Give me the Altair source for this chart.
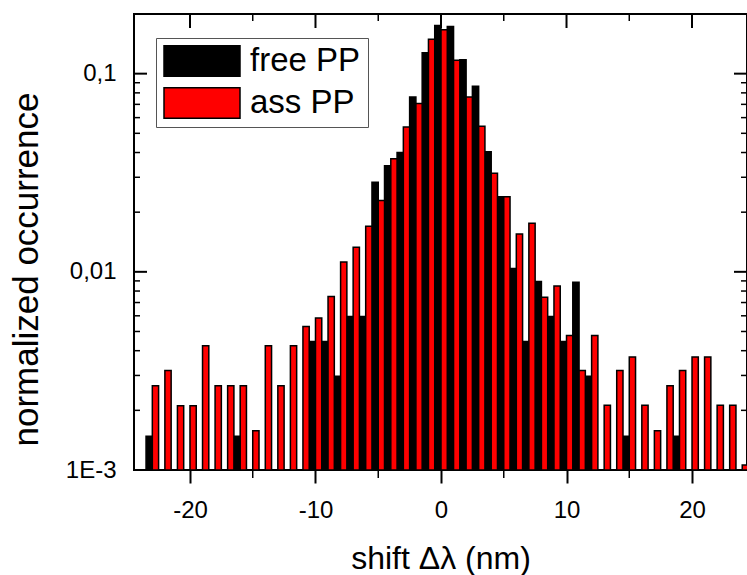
import altair as alt
import pandas as pd

# bin centres (nm)
bins = list(range(-23, 25))

free_pp = [0.00148, 0, 0, 0, 0, 0, 0, 0.00148, 0, 0,
           0, 0, 0, 0.00445, 0.00445, 0.00297, 0.00595, 0.00595, 0.0283, 0.0343,
           0.0400, 0.0762, 0.1276, 0.175, 0.173, 0.1175, 0.0863, 0.0403, 0.0239, 0.0104,
           0.00445, 0.00893, 0.00595, 0.00445, 0.00887, 0.00297, 0, 0, 0.00148, 0,
           0, 0, 0.00148, 0, 0, 0, 0, 0]

ass_pp = [0.00266, 0.00318, 0.00211, 0.00211, 0.00424, 0.00266, 0.00266, 0.00266, 0.00158, 0.00424,
          0.00266, 0.00424, 0.0053, 0.00584, 0.0075, 0.0112, 0.0133, 0.0170, 0.0229, 0.0372,
          0.0538, 0.0706, 0.149, 0.1666, 0.1167, 0.0762, 0.0543, 0.0314, 0.0239, 0.0155,
          0.0176, 0.00745, 0.00849, 0.00477, 0.00318, 0.00477, 0.00212, 0.00318, 0.00372, 0.00212,
          0.00158, 0.00266, 0.00318, 0.00372, 0.00372, 0.00212, 0.00212, 0.00106]

series_names = ["free PP", "ass PP"]
series_colors = ["#000000", "#ff0000"]

y_label_ticks = [0.001, 0.01, 0.1]
y_major_ticks = [0.01, 0.1]
y_minor_ticks = [0.002, 0.003, 0.004, 0.005, 0.006, 0.007, 0.008, 0.009,
                 0.02, 0.03, 0.04, 0.05, 0.06, 0.07, 0.08, 0.09]
x_major_ticks = [-20, -10, 0, 10, 20]
x_minor_ticks = [-15, -5, 5, 15]

W, H = 613, 456
FONT = "Liberation Sans"

rows = []
for b, v in zip(bins, free_pp):
    rows.append({"bin": b, "value": v, "series": "free PP"})
for b, v in zip(bins, ass_pp):
    rows.append({"bin": b, "value": v, "series": "ass PP"})
df = pd.DataFrame(rows)

xscale = alt.Scale(domain=[-24.46, 24.38], nice=False, zero=False)
yscale = alt.Scale(type="log", domain=[0.001, 0.2], nice=False)

x_axis = alt.Axis(
    values=x_major_ticks,
    labelExpr="'' + datum.value",
    title="shift Δλ (nm)",
    titleFontSize=32,
    titleFontWeight="normal",
    titleY=98,
    titleBaseline="alphabetic",
    titleColor="black",
    labelFontSize=24,
    labelColor="black",
    labelPadding=15,
    tickSize=13,
    tickWidth=2,
    tickColor="black",
    domain=False,
    grid=False,
)

y_axis = alt.Axis(
    values=y_label_ticks,
    labelExpr="datum.value < 0.005 ? '1E-3' : (datum.value < 0.05 ? '0,01' : '0,1')",
    title="normalized occurrence",
    titleFontSize=35,
    titleFontWeight="normal",
    titleAngle=270,
    titleX=-97,
    titleY=255,
    titleBaseline="alphabetic",
    titleAlign="center",
    titleColor="black",
    labelFontSize=24,
    labelColor="black",
    labelPadding=18,
    ticks=False,
    domain=False,
    grid=False,
)

bars = (
    alt.Chart(df)
    .transform_filter("datum.value > 0")
    .transform_calculate(
        x0="datum.bin + (datum.series == 'free PP' ? -0.5 : 0)",
        x1="datum.bin + (datum.series == 'free PP' ? 0 : 0.5)",
    )
    .mark_rect(stroke="black", strokeWidth=1.5, clip=True)
    .encode(
        x=alt.X("x0:Q", scale=xscale, axis=x_axis),
        x2="x1:Q",
        y=alt.Y("value:Q", scale=yscale, axis=y_axis),
        y2=alt.datum(0.001),
        fill=alt.Fill(
            "series:N",
            scale=alt.Scale(domain=series_names, range=series_colors),
            legend=alt.Legend(
                title=None,
                orient="none",
                legendX=22,
                legendY=24,
                symbolType="M-1,-0.4H1V0.4H-1Z",
                symbolSize=5776,
                symbolStrokeColor="black",
                symbolStrokeWidth=1.5,
                symbolOpacity=1,
                clipHeight=32,
                rowPadding=9,
                labelFontSize=33,
                labelColor="black",
                labelOffset=9,
                labelLimit=300,
                padding=7,
                strokeColor="#555555",
                fillColor="white",
            ),
        ),
    )
)

ymaj = pd.DataFrame({"v": y_major_ticks})
ymin = pd.DataFrame({"v": y_minor_ticks})
xmaj = pd.DataFrame({"v": x_major_ticks})
xmin = pd.DataFrame({"v": x_minor_ticks})


def yrule(data, a, b, sw):
    return alt.Chart(data).mark_rule(color="black", strokeWidth=sw).encode(
        y=alt.Y("v:Q", scale=yscale, axis=y_axis), x=alt.value(a), x2=alt.value(b)
    )


def xrule(data, a, b, sw):
    return alt.Chart(data).mark_rule(color="black", strokeWidth=sw).encode(
        x=alt.X("v:Q", scale=xscale, axis=x_axis), y=alt.value(a), y2=alt.value(b)
    )


ticks = [
    yrule(ymaj, 0, 13, 2),
    yrule(ymin, 0, 6, 1.5),
    yrule(ymaj, W - 13, W, 2),
    yrule(ymin, W - 6, W, 1.5),
    xrule(xmaj, 0, 14, 2),
    xrule(xmin, 0, 7, 1.5),
    xrule(xmin, H, H + 8, 1.5),
]

chart = (
    alt.layer(bars, *ticks)
    .properties(
        width=W,
        height=H,
        autosize=alt.AutoSizeParams(type="none"),
        padding={"left": 134, "top": 14, "right": 0, "bottom": 105},
    )
    .configure(font=FONT)
    .configure_view(stroke="black", strokeWidth=2)
)

chart.save("out.html", embed_options={"renderer": "svg", "actions": False})
